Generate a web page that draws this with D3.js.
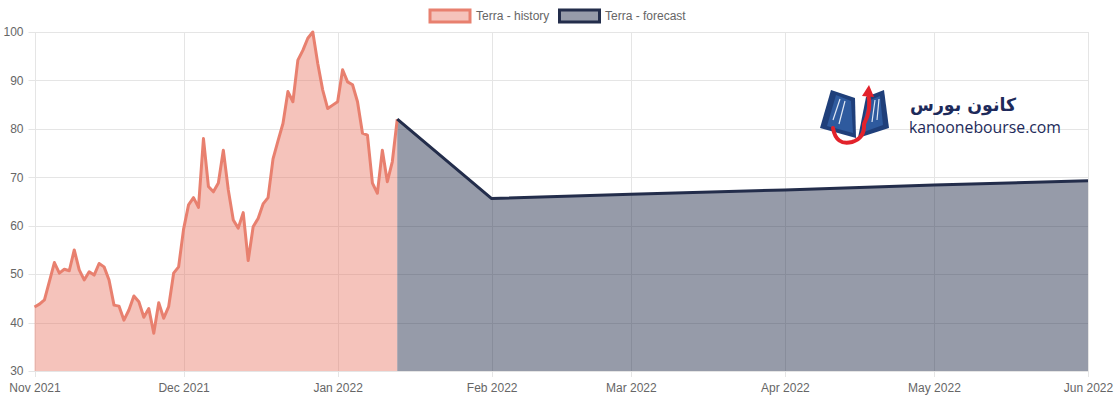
<!DOCTYPE html>
<html><head><meta charset="utf-8">
<script src="https://cdn.jsdelivr.net/npm/d3@7"></script>
<style>html,body{margin:0;padding:0;background:#fff;}svg{display:block;}</style>
</head><body>
<svg id="chart" width="1116" height="400"></svg>
<script>
// ---- data ----
const historyStart = "2021-11-01"; // daily values from this date
const historyValues = [43.2,43.8,44.7,48.5,52.4,50.2,51.0,50.7,55.0,50.9,48.8,50.5,49.8,52.2,51.5,48.8,43.6,43.4,40.5,42.6,45.5,44.3,41.1,42.9,37.8,44.1,40.9,43.3,50.2,51.5,59.3,64.3,65.8,63.8,78.0,68.1,67.0,68.8,75.6,67.4,61.2,59.5,62.7,52.8,59.8,61.5,64.5,65.8,73.8,77.5,81.1,87.7,85.6,94.2,96.2,98.7,100.0,93.5,88.0,84.2,84.9,85.6,92.2,89.7,89.1,85.6,79.1,78.7,68.8,66.7,75.6,69.1,73.2,82.0];
const forecastDates = ["2022-01-13","2022-02-01","2022-03-01","2022-04-01","2022-05-01","2022-06-01"];
const forecastValues = [82.0,65.6,66.5,67.4,68.4,69.3];
const xDomain = ["2021-11-01","2022-06-01"];
const yTicks = [30,40,50,60,70,80,90,100];
const seriesNames = ["Terra - history","Terra - forecast"];

const parse = d3.utcParse("%Y-%m-%d");
const start = parse(historyStart);
const hist = historyValues.map((v,i)=>({date:d3.utcDay.offset(start,i), value:v}));
const fc = forecastDates.map((d,i)=>({date:parse(d), value:forecastValues[i]}));

const svg = d3.select("#chart");
const L=34.5, R=1088, T=32, B=371;
const x = d3.scaleUtc().domain(xDomain.map(parse)).range([L,R]);
const y = d3.scaleLinear().domain([30,100]).range([B,T]);
const font = "'Liberation Sans', Arial, Helvetica, sans-serif";
const grid = "#e5e5e5";

// grid
const months = d3.utcMonth.range(parse(xDomain[0]), d3.utcDay.offset(parse(xDomain[1]),1));
svg.append("g").selectAll("line").data(months).join("line")
  .attr("x1",d=>Math.round(x(d))+0.5).attr("x2",d=>Math.round(x(d))+0.5)
  .attr("y1",T).attr("y2",B+6).attr("stroke",grid).attr("stroke-width",1);
svg.append("g").selectAll("line").data(yTicks).join("line")
  .attr("x1",L-6).attr("x2",R).attr("y1",d=>Math.round(y(d))+0.5).attr("y2",d=>Math.round(y(d))+0.5)
  .attr("stroke",grid).attr("stroke-width",1);

// axis labels
const yAxis = d3.axisLeft(y).tickValues(yTicks).tickSize(0).tickPadding(10);
const gy = svg.append("g").attr("transform",`translate(${L-1},0)`).call(yAxis);
gy.select(".domain").remove();
gy.selectAll("text").attr("fill","#666").style("font-family",font).style("font-size","12px");
const xAxis = d3.axisBottom(x).tickValues(months).tickFormat(d3.utcFormat("%b %Y")).tickSize(0).tickPadding(12);
const gx = svg.append("g").attr("transform",`translate(0,${B})`).call(xAxis);
gx.select(".domain").remove();
gx.selectAll("text").attr("fill","#666").style("font-family",font).style("font-size","12px");

// watermark logo
const logo = svg.append("g");
logo.append("path").attr("d","M820,128 L831,90 L855,98 L856,138 Z").attr("fill","#1f3f7a");
logo.append("path").attr("d","M827,126 L836,95 L851,101 L853,133 Z").attr("fill","#2e5a9e");
logo.append("path").attr("d","M833,120 L840,99 M839,124 L845,101").attr("stroke","#dfe7f3").attr("stroke-width",1.2);
logo.append("path").attr("d","M858,138 L866,97 L884,90 L889,128 Z").attr("fill","#1f3f7a");
logo.append("path").attr("d","M861,133 L868,101 L880,96 L883,125 Z").attr("fill","#2e5a9e");
logo.append("path").attr("d","M872,122 L875,100 M877,120 L879,99").attr("stroke","#dfe7f3").attr("stroke-width",1.2);
logo.append("path").attr("d","M833,128 Q836,146 852,142 Q865,138 864,124 Q872,110 868,93")
  .attr("fill","none").attr("stroke","#e2222b").attr("stroke-width",4).attr("stroke-linecap","round");
logo.append("path").attr("d","M862,96 L869,85 L874,97 Z").attr("fill","#e2222b");
logo.append("text").attr("x",1016).attr("y",111).attr("text-anchor","end")
  .attr("fill","#1d2a5a").style("font-family","'DejaVu Sans', sans-serif").style("font-size","18px").style("font-weight","bold")
  .attr("textLength",106).attr("lengthAdjust","spacingAndGlyphs")
  .text("کانون بورس");
logo.append("text").attr("x",909).attr("y",133)
  .attr("fill","#1d2a5a").style("font-family","'Open Sans', sans-serif").style("font-size","17px")
  .attr("textLength",152).attr("lengthAdjust","spacingAndGlyphs")
  .text("kanoonebourse.com");

// areas
const area = d3.area().x(d=>x(d.date)).y0(y(30)).y1(d=>y(d.value));
const line = d3.line().x(d=>x(d.date)).y(d=>y(d.value));
const histFill = "rgba(232,116,97,0.43)", histStroke = "#e8806f";
const fcFill = "rgba(35,45,75,0.48)", fcStroke = "#232d4b";
svg.append("path").datum(hist).attr("d",area).attr("fill",histFill);
svg.append("path").datum(fc).attr("d",area).attr("fill",fcFill);
svg.append("path").datum(hist).attr("d",line).attr("fill","none").attr("stroke",histStroke).attr("stroke-width",3).attr("stroke-linejoin","round");
svg.append("path").datum(fc).attr("d",line).attr("fill","none").attr("stroke",fcStroke).attr("stroke-width",3).attr("stroke-linejoin","round");

// legend
const legend = svg.append("g").style("font-family",font).style("font-size","12px");
const legItems = [
  {name:seriesNames[0], fill:histFill, stroke:histStroke, bx:430, tx:476},
  {name:seriesNames[1], fill:fcFill, stroke:fcStroke, bx:559.5, tx:605}
];
legItems.forEach(it=>{
  legend.append("rect").attr("x",it.bx).attr("y",10).attr("width",40).attr("height",12)
    .attr("fill",it.fill).attr("stroke",it.stroke).attr("stroke-width",3);
  legend.append("text").attr("x",it.tx).attr("y",20).attr("fill","#666").text(it.name);
});
</script>
</body></html>
